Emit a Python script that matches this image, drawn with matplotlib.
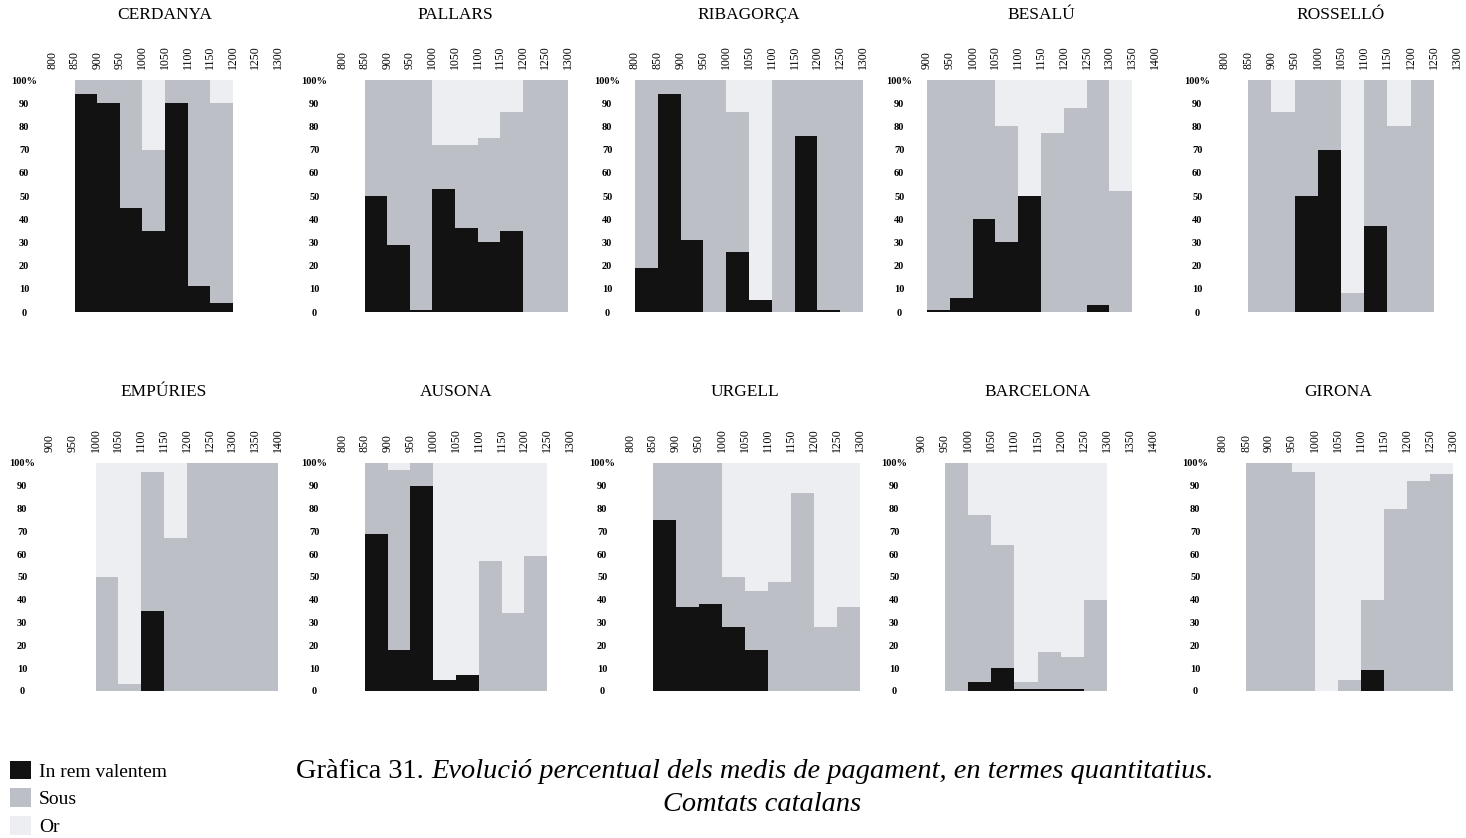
import matplotlib
matplotlib.use("Agg")
import matplotlib.pyplot as plt
import numpy as np

plt.rcParams['font.family'] = ['Liberation Serif', 'DejaVu Serif']

W, H = 1466, 838
C_REM = '#121212'
C_SOUS = '#bcc0c6'
C_OR = '#eceef1'

YEARS_800 = [800, 850, 900, 950, 1000, 1050, 1100, 1150, 1200, 1250, 1300]
YEARS_900 = [900, 950, 1000, 1050, 1100, 1150, 1200, 1250, 1300, 1350, 1400]

# top row
cerdanya_first = 1
cerdanya_rem = [94, 90, 45, 35, 90, 11, 4]
cerdanya_sous = [6, 10, 55, 35, 10, 89, 86]
cerdanya_or = [0, 0, 0, 30, 0, 0, 10]

pallars_first = 1
pallars_rem = [50, 29, 1, 53, 36, 30, 35, 0, 0]
pallars_sous = [50, 71, 99, 19, 36, 45, 51, 100, 100]
pallars_or = [0, 0, 0, 28, 28, 25, 14, 0, 0]

ribagorca_first = 0
ribagorca_rem = [19, 94, 31, 0, 26, 5, 0, 76, 1, 0]
ribagorca_sous = [81, 6, 69, 100, 60, 0, 100, 24, 99, 100]
ribagorca_or = [0, 0, 0, 0, 14, 95, 0, 0, 0, 0]

besalu_first = 0
besalu_rem = [1, 6, 40, 30, 50, 0, 0, 3, 0]
besalu_sous = [99, 94, 60, 50, 0, 77, 88, 97, 52]
besalu_or = [0, 0, 0, 20, 50, 23, 12, 0, 48]

rossello_first = 1
rossello_rem = [0, 0, 50, 70, 0, 37, 0, 0]
rossello_sous = [100, 86, 50, 30, 8, 63, 80, 100]
rossello_or = [0, 14, 0, 0, 92, 0, 20, 0]

# bottom row
empuries_first = 2
empuries_rem = [0, 0, 35, 0, 0, 0, 0, 0]
empuries_sous = [50, 3, 61, 67, 100, 100, 100, 100]
empuries_or = [50, 97, 4, 33, 0, 0, 0, 0]

ausona_first = 1
ausona_rem = [69, 18, 90, 5, 7, 0, 0, 0]
ausona_sous = [31, 79, 10, 0, 0, 57, 34, 59]
ausona_or = [0, 3, 0, 95, 93, 43, 66, 41]

urgell_first = 1
urgell_rem = [75, 37, 38, 28, 18, 0, 0, 0, 0]
urgell_sous = [25, 63, 62, 22, 26, 48, 87, 28, 37]
urgell_or = [0, 0, 0, 50, 56, 52, 13, 72, 63]

barcelona_first = 1
barcelona_rem = [0, 4, 10, 1, 1, 1, 0]
barcelona_sous = [100, 73, 54, 3, 16, 14, 40]
barcelona_or = [0, 23, 36, 96, 83, 85, 60]

girona_first = 1
girona_rem = [0, 0, 0, 0, 0, 9, 0, 0, 0]
girona_sous = [100, 100, 96, 0, 5, 31, 80, 92, 95]
girona_or = [0, 0, 4, 100, 95, 60, 20, 8, 5]

# name, years, first bar, rem, sous, or, x of first label, x of last label, row
panels = [
    ("CERDANYA", YEARS_800, cerdanya_first, cerdanya_rem, cerdanya_sous, cerdanya_or, 52, 278, 0),
    ("PALLARS", YEARS_800, pallars_first, pallars_rem, pallars_sous, pallars_or, 342, 568, 0),
    ("RIBAGORÇA", YEARS_800, ribagorca_first, ribagorca_rem, ribagorca_sous, ribagorca_or, 635, 863, 0),
    ("BESALÚ", YEARS_900, besalu_first, besalu_rem, besalu_sous, besalu_or, 927, 1155, 0),
    ("ROSSELLÓ", YEARS_800, rossello_first, rossello_rem, rossello_sous, rossello_or, 1225, 1457, 0),
    ("EMPÚRIES", YEARS_900, empuries_first, empuries_rem, empuries_sous, empuries_or, 50, 278, 1),
    ("AUSONA", YEARS_800, ausona_first, ausona_rem, ausona_sous, ausona_or, 342, 570, 1),
    ("URGELL", YEARS_800, urgell_first, urgell_rem, urgell_sous, urgell_or, 630, 860, 1),
    ("BARCELONA", YEARS_900, barcelona_first, barcelona_rem, barcelona_sous, barcelona_or, 922, 1153, 1),
    ("GIRONA", YEARS_800, girona_first, girona_rem, girona_sous, girona_or, 1223, 1453, 1),
]

rows = [(80, 312, 47), (463, 691, 51)]  # axes top, axes bottom, title offset (pt)

fig = plt.figure(figsize=(W / 100, H / 100), dpi=100)

for name, years, first, rem, sous, orr, x0, x1, row in panels:
    top, bot, toff = rows[row]
    ax = fig.add_axes([x0 / W, 1 - bot / H, (x1 - x0) / W, (bot - top) / H])
    x = np.arange(first, first + len(rem))
    rem = np.array(rem)
    sous = np.array(sous)
    orr = np.array(orr)
    b1 = ax.bar(x, rem, width=1, align='edge', color=C_REM, linewidth=0)
    b2 = ax.bar(x, sous, width=1, align='edge', bottom=rem, color=C_SOUS, linewidth=0)
    b3 = ax.bar(x, orr, width=1, align='edge', bottom=rem + sous, color=C_OR, linewidth=0)
    ax.set_xlim(0, 10)
    ax.set_ylim(0, 100)
    for s in ax.spines.values():
        s.set_visible(False)
    ax.xaxis.tick_top()
    ax.set_xticks(range(len(years)))
    ax.set_xticklabels([str(y) for y in years], rotation=90, fontsize=8.5)
    ax.set_yticks(range(0, 101, 10))
    ax.set_yticklabels([str(v) for v in range(0, 100, 10)] + ["100%"],
                       fontsize=7.5, fontweight='bold', ha='center')
    ax.tick_params(axis='x', length=0, pad=8)
    ax.tick_params(axis='y', length=0, pad=20)
    ax.annotate(name, xy=(0.5, 1), xycoords='axes fraction', xytext=(0, toff),
                textcoords='offset points', ha='center', va='center', fontsize=12.5)

fig.legend([b1, b2, b3], ["In rem valentem", "Sous", "Or"], loc='lower left',
           bbox_to_anchor=(10 / W, 2 / H), frameon=False, fontsize=14,
           handlelength=1.1, handleheight=1.1, handletextpad=0.4, labelspacing=0.4,
           borderpad=0, borderaxespad=0)

# caption: upright number, italic description
fig.canvas.draw()
r = fig.canvas.get_renderer()
cap_fs = 20.4
t1 = fig.text(0, 0, "Gràfica 31. ", fontsize=cap_fs)
t2 = fig.text(0, 0, "Evolució percentual dels medis de pagament, en termes quantitatius.",
              fontsize=cap_fs, style='italic')
w1 = t1.get_window_extent(r).width
w2 = t2.get_window_extent(r).width
cx = 755
start = cx - (w1 + w2) / 2
t1.set_position((start / W, 1 - 771 / H))
t2.set_position(((start + w1) / W, 1 - 771 / H))
t1.set_va('center')
t2.set_va('center')
fig.text(762 / W, 1 - 804 / H, "Comtats catalans", fontsize=cap_fs, style='italic',
         ha='center', va='center')

fig.savefig("out.png", dpi=100)
